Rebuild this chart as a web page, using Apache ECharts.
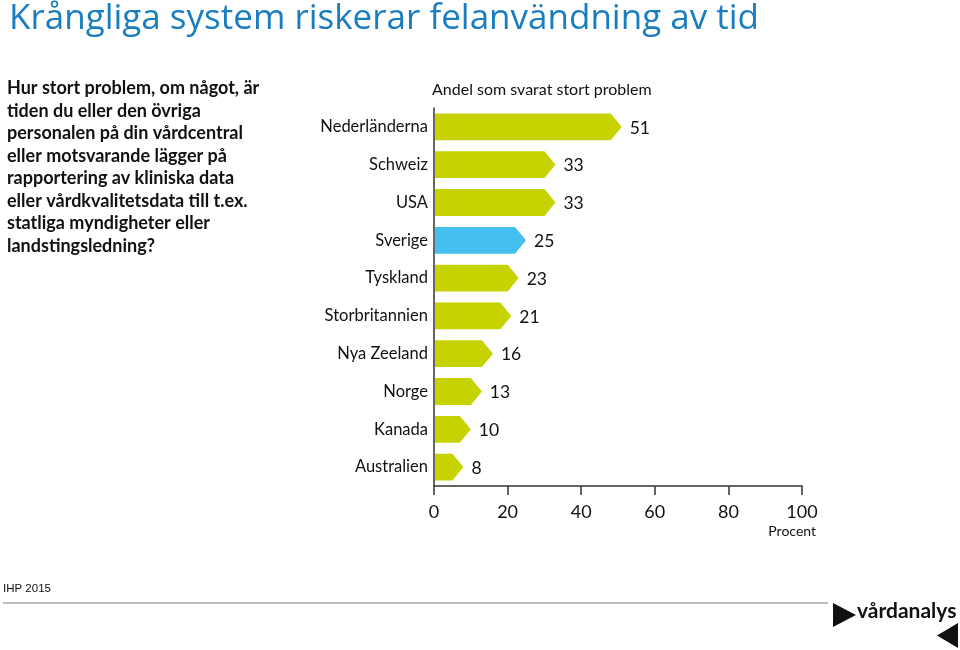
<!DOCTYPE html>
<html><head><meta charset="utf-8">
<script src="https://cdn.jsdelivr.net/npm/echarts@6/dist/echarts.min.js"></script>
<style>html,body{margin:0;padding:0;background:#fff}#c{width:960px;height:650px}</style>
</head><body><div id="c"></div>
<script>
var countries = ['Nederländerna','Schweiz','USA','Sverige','Tyskland','Storbritannien','Nya Zeeland','Norge','Kanada','Australien'];
var values = [51, 33, 33, 25, 23, 21, 16, 13, 10, 8];
var xTicks = [0, 20, 40, 60, 80, 100];
var highlightCountry = 'Sverige';
var titleText = 'Krångliga system riskerar felanvändning av tid';
var questionLines = ['Hur stort problem, om något, är','tiden du eller den övriga','personalen på din vårdcentral','eller motsvarande lägger på','rapportering av kliniska data','eller vårdkvalitetsdata till t.ex.','statliga myndigheter eller','landstingsledning?'];
var chartFont = 'Lato';
var green = '#c6d300', blue = '#44bff0';

var chart = echarts.init(document.getElementById('c'), null, {renderer:'canvas'});
var seriesData = values.map(function(v,i){ return [v, i]; });

var option = {
  animation: false,
  backgroundColor: '#fff',
  title: {
    text: titleText, left: 4, top: -3,
    textStyle: {fontFamily: 'Open Sans', fontWeight: 'normal', fontSize: 35, color: '#1a7dc0'}
  },
  grid: {left: 434, right: 158, top: 108, bottom: 164, containLabel: false},
  xAxis: {
    type: 'value', min: 0, max: 100, interval: 20,
    axisLine: {show: true, lineStyle: {color: '#333', width: 1.5}},
    axisTick: {show: true, length: 9, lineStyle: {color: '#333', width: 1.5}},
    axisLabel: {fontFamily: chartFont, fontSize: 18, color: '#111', margin: 17,
      formatter: function(v){ return xTicks.indexOf(v) >= 0 ? String(v) : ''; }},
    splitLine: {show: false},
    name: 'Procent', nameLocation: 'end', nameGap: 0,
    nameTextStyle: {fontFamily: chartFont, fontSize: 14, color: '#111', align: 'right', verticalAlign: 'top', padding: [38, -14, 0, 0]}
  },
  yAxis: {
    type: 'category', data: countries, inverse: true,
    axisLine: {show: true, lineStyle: {color: '#333', width: 1.5}},
    axisTick: {show: false},
    axisLabel: {fontFamily: chartFont, fontSize: 16.5, color: '#111', margin: 6},
    name: 'Andel som svarat stort problem', nameLocation: 'start', nameGap: 10,
    nameTextStyle: {fontFamily: chartFont, fontSize: 16, color: '#111', align: 'left', padding: [0, 0, 0, -2]}
  },
  series: [{
    type: 'custom',
    data: seriesData,
    encode: {x: 0, y: 1},
    renderItem: function(params, api){
      var v = api.value(0), c = api.value(1);
      var s = api.coord([0, c]);
      var e = api.coord([v, c]);
      var h = api.size([0, 1])[1] * 0.71;
      var tip = Math.min(11, e[0] - s[0]);
      var x0 = s[0] + 1, x1 = e[0], y = s[1];
      var col = countries[c] === highlightCountry ? blue : green;
      return {type: 'group', children: [
        {type: 'polygon', shape: {points: [[x0, y - h/2], [x1 - tip, y - h/2], [x1, y], [x1 - tip, y + h/2], [x0, y + h/2]]},
         style: {fill: col}},
        {type: 'text', x: x1 + 8, y: y + 1,
         style: {text: String(v), fill: '#111', font: '17.5px ' + chartFont, verticalAlign: 'middle', align: 'left'}}
      ]};
    }
  }],
  graphic: [
    {type: 'text', left: 7, top: 77, style: {text: questionLines.join('\n'), font: 'bold 18px ' + chartFont, lineHeight: 22.5, fill: '#111'}},
    {type: 'text', left: 3, top: 583, style: {text: 'IHP 2015', font: '11.5px "Liberation Sans"', fill: '#111'}},
    {type: 'line', shape: {x1: 3, y1: 603, x2: 828, y2: 603}, style: {stroke: '#bdbdbd', lineWidth: 2}},
    {type: 'polygon', shape: {points: [[833, 603], [856, 615], [833, 627]]}, style: {fill: '#111'}},
    {type: 'text', left: 857, top: 601, style: {text: 'vårdanalys', font: 'bold 21px ' + chartFont, fill: '#111'}},
    {type: 'polygon', shape: {points: [[958, 623], [937, 635.5], [958, 648]]}, style: {fill: '#111'}}
  ]
};
chart.setOption(option);
</script></body></html>
